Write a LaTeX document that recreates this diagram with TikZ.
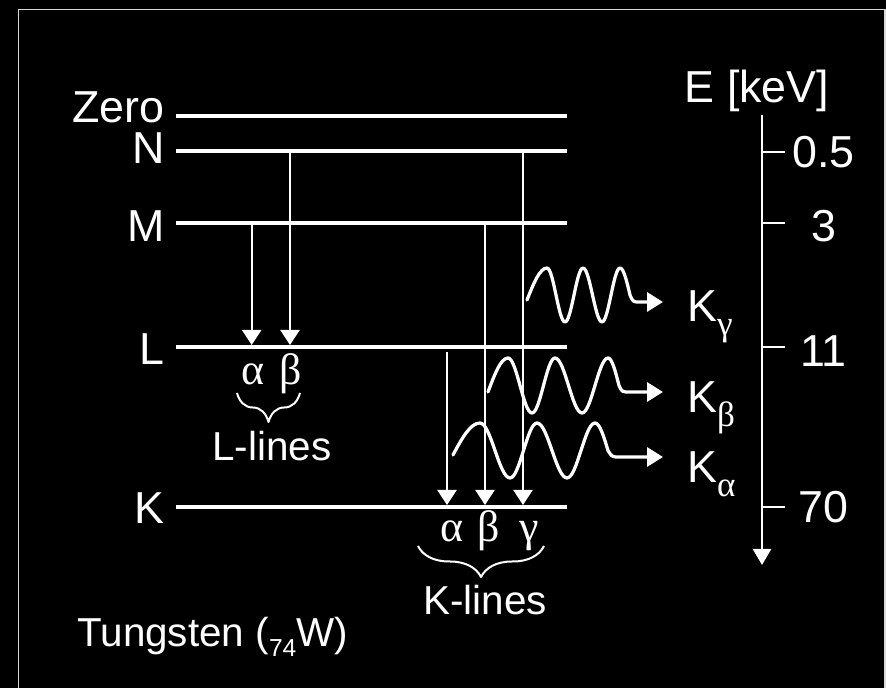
\documentclass[tikz,border=0pt]{standalone}
\usepackage{fontspec}
\setmainfont{Liberation Sans}
\newfontfamily\greekfont{Liberation Serif}
\usetikzlibrary{arrows.meta,decorations.pathreplacing}
\begin{document}
\begin{tikzpicture}[x=0.02cm, y=-0.02cm, line join=round, white,
		shell/.style={line width=0.08cm},
		trans/.style={line width=0.045cm, -{Triangle[width=0.38cm,length=0.3cm]}},
		photon/.style={line width=0.065cm, line cap=round, -{Triangle[width=0.38cm,length=0.32cm]}},
		bracket/.style={line width=0.04cm, decorate, decoration={brace, mirror, amplitude=#1}},
		lbl/.style={inner sep=0pt, font=\fontsize{25.5}{30}\selectfont},
		lblsmall/.style={inner sep=0pt, font=\fontsize{23}{28}\selectfont},
		greek/.style={inner sep=0pt, font=\fontsize{25}{30}\selectfont\greekfont}]
	\def\subgreek{\fontsize{20}{22}\selectfont\greekfont}
	\def\xleft{176}
	\def\xright{567}
	\path[use as bounding box, fill=black] (0,0) rectangle (886,688);
	\draw[white!85!black, line width=0.03cm] (18.5,9.5) rectangle (885,700);
	\foreach \name/\y/\b in {Zero/115.7/123, N/151.5/164, M/222.7/242, L/346.7/365, K/507/524}
	{
		\draw[shell] (\xleft,\y) -- (\xright,\y);
		\node[lbl, anchor=base east] (lab\name) at (165,\b) {\name};
	}
	\foreach \x/\a/\b in {251.7/222.7/345, 290/151.5/345, 447/352/505, 485/222.7/505, 523/151.5/505}
	\draw[trans] (\x,\a) -- (\x,\b);
	\node[greek, anchor=base] (lalpha) at (253,385) {α};
	\node[greek, anchor=base] (lbeta) at (291,385) {β};
	\node[greek, anchor=base] (kalpha) at (451.7,542) {α};
	\node[greek, anchor=base] (kbeta) at (489,542) {β};
	\node[greek, anchor=base] (kgamma) at (529.5,542) {γ};
	\draw[bracket=0.58cm] (237,393) -- (300,393);
	\draw[bracket=0.62cm] (418,546) -- (544,546);
	\node[lblsmall, anchor=base] (llines) at (272,461) {L-lines};
	\node[lblsmall, anchor=base] (klines) at (485,615) {K-lines};
	\node[lblsmall, anchor=base west] (element) at (77,647) {Tungsten (\raisebox{-5.5pt}{\fontsize{14}{16}\selectfont 74}W)};
	\draw[photon] (527,300) sin (547,268) cos (556,295) sin (565,322) cos (574,295) sin (583,268) cos (592.5,295) sin (602,322) cos (611,295) sin (620,268) cos (630,295) .. controls (633,302) .. (640,302) -- (663,302);
	\draw[photon] (488,392) sin (508,358) cos (520,385.5) sin (532,413) cos (543.5,385.5) sin (555,358) cos (568.5,385.5) sin (582,413) cos (595,385.5) sin (608,358) cos (619,385.5) .. controls (622,392) .. (630,392) -- (663,392);
	\draw[photon] (453,455) sin (480,423) cos (495,450.5) sin (510,478) cos (523.5,450.5) sin (537,423) cos (552,450.5) sin (567,478) cos (581,450.5) sin (595,423) cos (608,450.5) .. controls (612,457) .. (620,457) -- (663,457);
	\node[lbl, anchor=base west] (kgline) at (687,322) {K\raisebox{-7.5pt}{\subgreek γ}};
	\node[lbl, anchor=base west] (kbline) at (687,413) {K\raisebox{-7.5pt}{\subgreek β}};
	\node[lbl, anchor=base west] (kaline) at (687,483) {K\raisebox{-7.5pt}{\subgreek α}};
	\node[lbl, anchor=base] (eunit) at (757,103) {E [keV]};
	\draw[line width=0.05cm, -{Triangle[width=0.36cm,length=0.32cm]}] (762,115) -- (762,565);
	\foreach \y/\b/\v [count=\i] in {152/168/0.5, 223/242/3, 347/367/11, 507/523/70}
	{
		\draw[line width=0.045cm] (762,\y) -- (785,\y);
		\node[lbl, anchor=base] (tick\i) at (823.5,\b) {\v};
	}
\end{tikzpicture}
\end{document}
